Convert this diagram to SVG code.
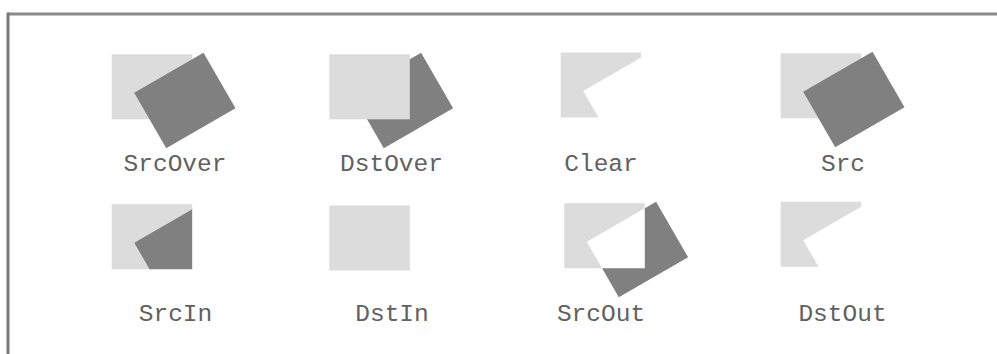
<svg xmlns="http://www.w3.org/2000/svg" xmlns:xlink="http://www.w3.org/1999/xlink" width="997" height="354" viewBox="0 0 997 354">
<style>
.light{fill:#dcdcdc}
.dark{fill:#808080}
.lbl{font-family:"Liberation Mono","Courier New",monospace;font-size:24.5px;fill:#616161;text-anchor:middle}
.frame{stroke:#8a8a8a;stroke-width:3;fill:none}
</style>
<defs>
<rect id="dst" width="80.5" height="65"/>
<polygon id="src" points="22.5,38.5 91.8,-1.5 123.8,53.9 54.5,93.9"/>
<polygon id="dstOnly" points="0,0 80.5,0 80.5,5 22.5,38.5 37.8,65 0,65"/>
<polygon id="both" points="80.5,5 80.5,65 37.8,65 22.5,38.5"/>
<polygon id="srcOnly" points="80.5,5 91.8,-1.5 123.8,53.9 54.5,93.9 37.8,65 80.5,65"/>
</defs>
<g id="frame">
<line class="frame" x1="8" y1="14" x2="997" y2="14"/>
<line class="frame" x1="8" y1="12.5" x2="8" y2="354" style="stroke:#7a7a7a"/>
</g>
<g id="srcover">
<g transform="translate(111.7,54.3)">
<use xlink:href="#dst" class="light"/>
<use xlink:href="#src" class="dark"/>
</g>
<text class="lbl" x="175" y="171">SrcOver</text>
</g>
<g id="dstover">
<g transform="translate(329.3,54.3)">
<use xlink:href="#src" class="dark"/>
<use xlink:href="#dst" class="light"/>
</g>
<text class="lbl" x="391.5" y="171">DstOver</text>
</g>
<g id="clear">
<g transform="translate(560.7,52.5)">
<use xlink:href="#dstOnly" class="light"/>
</g>
<text class="lbl" x="601" y="171">Clear</text>
</g>
<g id="src-node">
<g transform="translate(780.7,53.3)">
<use xlink:href="#dst" class="light"/>
<use xlink:href="#src" class="dark"/>
</g>
<text class="lbl" x="843" y="171">Src</text>
</g>
<g id="srcin">
<g transform="translate(111.7,204.3)">
<use xlink:href="#dstOnly" class="light"/>
<use xlink:href="#both" class="dark"/>
</g>
<text class="lbl" x="175.5" y="321">SrcIn</text>
</g>
<g id="dstin">
<g transform="translate(329.3,205.5)">
<use xlink:href="#dst" class="light"/>
</g>
<text class="lbl" x="392" y="321">DstIn</text>
</g>
<g id="srcout">
<g transform="translate(564.3,203.3)">
<use xlink:href="#dstOnly" class="light"/>
<use xlink:href="#srcOnly" class="dark"/>
</g>
<text class="lbl" x="601" y="321">SrcOut</text>
</g>
<g id="dstout">
<g transform="translate(780.7,201.7)">
<use xlink:href="#dstOnly" class="light"/>
</g>
<text class="lbl" x="842.5" y="321">DstOut</text>
</g>
</svg>
